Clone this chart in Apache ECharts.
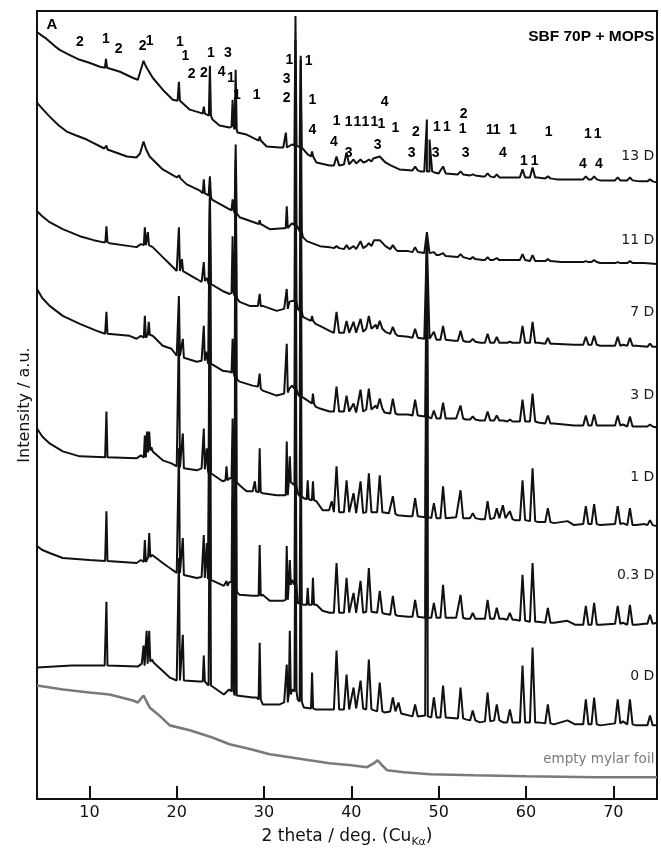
<!DOCTYPE html>
<html>
<head>
<meta charset="utf-8">
<script src="https://cdn.jsdelivr.net/npm/echarts@6/dist/echarts.min.js"></script>
<style>
html, body { margin: 0; padding: 0; background: #fff; }
#chart { width: 661px; height: 853px; }
</style>
</head>
<body>
<div id="chart"></div>
<script>
// 2 theta tick labels
const xTicks = [10, 20, 30, 40, 50, 60, 70]

// each pattern: background points [2 theta, intensity] and reflections [2 theta, top, foot]
// intensities are in stacked a.u.
const base13 = [
  [4.0, 770], [4.6, 766], [5.1, 763], [6.0, 756], [6.6, 752], [7.7, 747], [8.9, 742], [10.0, 739],
  [11.2, 735], [13.5, 730], [14.95, 724], [15.55, 722], [16.2, 741], [16.5, 735], [16.7, 732], [17.25, 724],
  [18.4, 712], [19.55, 702], [20.1, 701], [21.5, 692], [22.65, 689], [23.45, 687], [24.1, 682], [24.9, 676],
  [26.05, 674], [26.95, 669], [28.0, 667], [29.15, 662], [29.8, 659], [30.3, 655], [31.8, 654], [32.2, 654],
  [33.2, 657], [33.85, 655], [34.45, 652], [35.0, 647], [36.0, 639], [37.5, 636], [38.7, 637], [40.0, 638],
  [41.5, 639], [42.5, 643], [43.25, 645], [43.9, 639], [44.5, 636], [45.5, 632], [47.0, 632], [47.9, 630],
  [49.5, 629], [50.0, 628], [51.0, 628], [53.0, 626], [55.0, 625], [57.5, 624], [59.0, 624], [61.3, 624],
  [63.5, 622], [66.0, 622], [68.5, 621], [71.2, 621], [73.0, 620], [75.0, 619]
]
const peaks13 = [
  [11.9, 743, 734], [20.25, 720, 701], [23.1, 695, 688], [23.8, 736, 686], [26.4, 702, 675], [26.75, 732, 672],
  [29.5, 665, 661], [32.5, 669, 654], [33.6, 786, 656], [34.2, 746, 654], [35.5, 650, 645], [38.3, 645, 636],
  [39.45, 649, 637], [40.25, 642, 638], [41.05, 642, 639], [42.0, 642, 640], [47.3, 635, 631], [48.65, 682, 630],
  [48.95, 662, 630], [50.5, 635, 628], [52.5, 630, 627], [53.9, 627, 626], [55.6, 628, 625], [56.65, 627, 624],
  [59.6, 632, 624], [60.75, 634, 624], [62.5, 625, 623], [66.85, 625, 622], [67.8, 625, 622], [70.5, 624, 621],
  [71.9, 624, 621], [74.2, 622, 620]
]
const base11 = [
  [4.0, 699], [4.6, 693], [5.45, 685], [6.5, 676], [7.4, 670], [8.5, 666], [9.7, 662], [11.7, 653],
  [12.2, 652], [14.3, 645], [15.4, 644], [15.8, 648], [16.2, 660], [16.5, 652], [16.9, 645], [18.4, 632],
  [20.0, 624], [20.6, 623], [21.15, 617], [22.6, 611], [23.3, 607], [23.65, 606], [24.0, 602], [24.6, 599],
  [26.05, 592], [26.95, 586], [27.2, 584], [29.15, 578], [29.85, 576], [30.65, 572], [32.2, 573], [33.2, 578],
  [33.85, 574], [34.45, 564], [34.9, 560], [36.4, 555], [37.5, 554], [38.7, 552], [39.9, 552], [41.5, 554],
  [42.0, 556], [42.6, 561], [43.25, 561], [43.9, 555], [45.3, 550], [46.5, 550], [47.8, 548], [50.0, 546],
  [51.0, 544], [53.0, 543], [55.0, 541], [56.2, 541], [58.0, 541], [59.0, 541], [61.4, 540], [64.0, 539],
  [66.0, 539], [68.5, 538], [71.0, 538], [73.5, 538], [75.0, 537]
]
const peaks11 = [
  [11.95, 656, 652], [20.3, 626, 623], [23.1, 622, 608], [23.8, 625, 605], [26.4, 602, 591], [26.75, 657, 588],
  [29.5, 581, 577], [32.6, 595, 573], [33.6, 762, 576], [34.2, 742, 570], [38.3, 555, 553], [39.45, 556, 552],
  [40.25, 555, 552], [41.05, 560, 553], [42.0, 558, 555], [44.75, 556, 552], [47.3, 554, 549], [48.65, 569, 548],
  [49.45, 549, 546], [50.5, 548, 545], [52.5, 547, 544], [53.9, 544, 542], [55.6, 544, 541], [56.65, 543, 541],
  [59.6, 547, 541], [60.75, 546, 540], [62.5, 542, 540], [66.85, 540, 539], [67.8, 541, 539], [70.5, 539, 538],
  [71.9, 540, 538]
]
const base7 = [
  [4.0, 590], [4.6, 585], [5.45, 579], [6.95, 572], [8.9, 565], [10.5, 561], [11.5, 559], [12.3, 558],
  [14.6, 555], [15.4, 554], [15.9, 557], [17.0, 557], [17.25, 554], [18.4, 544], [19.55, 534], [20.0, 530],
  [20.45, 530], [20.9, 529], [22.3, 522], [22.85, 519], [23.45, 523], [23.65, 517], [24.0, 515], [25.25, 510],
  [26.05, 507], [26.55, 510], [26.95, 502], [27.2, 499], [28.35, 495], [29.3, 495], [29.85, 495], [31.45, 490],
  [32.3, 492], [32.9, 499], [33.2, 500], [33.85, 492], [34.45, 484], [34.9, 482], [35.9, 477], [36.4, 475],
  [37.5, 470], [38.65, 467], [39.8, 468], [40.65, 468], [41.5, 470], [42.4, 474], [42.8, 476], [43.9, 469],
  [45.3, 465], [46.5, 464], [47.8, 463], [48.45, 463], [49.9, 461], [51.0, 461], [51.8, 460], [53.1, 459],
  [54.8, 458], [56.1, 459], [57.4, 458], [58.9, 458], [61.4, 458], [63.2, 457], [65.5, 456], [68.5, 455],
  [71.1, 456], [72.6, 455], [75.0, 454]
]
const peaks7 = [
  [11.95, 575, 559], [16.35, 574, 556], [16.7, 569, 556], [20.25, 574, 530], [20.6, 542, 530], [23.1, 539, 520],
  [23.8, 612, 517], [26.4, 565, 508], [26.75, 642, 505], [29.5, 507, 495], [32.6, 512, 492], [33.6, 672, 500],
  [34.2, 652, 490], [35.5, 485, 480], [38.3, 489, 468], [39.45, 480, 468], [40.25, 479, 468], [41.05, 482, 469],
  [42.0, 485, 472], [43.25, 480, 472], [44.75, 474, 467], [47.3, 472, 463], [48.65, 562, 462], [49.45, 469, 461],
  [50.5, 475, 461], [52.5, 470, 460], [53.9, 462, 459], [55.6, 467, 458], [56.65, 464, 458], [58.15, 459, 458],
  [59.6, 475, 458], [60.75, 479, 458], [62.5, 463, 457], [66.85, 464, 456], [67.8, 465, 456], [70.5, 464, 455],
  [71.9, 463, 455], [74.2, 457, 454]
]
const base3 = [
  [4.0, 512], [4.6, 503], [5.45, 495], [6.95, 485], [8.9, 477], [10.85, 470], [11.8, 467], [12.1, 467],
  [14.6, 465], [15.4, 462], [15.9, 465], [17.1, 467], [17.25, 465], [18.4, 455], [19.4, 452], [20.0, 445],
  [20.45, 445], [20.95, 442], [22.3, 439], [22.85, 440], [23.35, 449], [23.6, 437], [24.0, 435], [25.25, 430],
  [26.05, 429], [26.55, 426], [26.95, 421], [27.2, 419], [28.7, 415], [29.3, 414], [29.85, 410], [31.45, 405],
  [32.3, 407], [32.9, 412], [33.2, 415], [33.85, 407], [34.45, 402], [35.0, 400], [35.9, 394], [36.4, 392],
  [37.5, 389], [38.65, 388], [39.8, 389], [40.6, 388], [41.5, 390], [42.4, 392], [42.8, 395], [43.8, 388],
  [45.3, 386], [46.5, 386], [47.8, 385], [48.45, 384], [49.9, 382], [51.0, 382], [52.0, 382], [53.1, 381],
  [54.7, 380], [56.1, 381], [57.4, 380], [58.9, 379], [61.4, 378], [63.2, 377], [65.5, 375], [68.5, 375],
  [71.1, 376], [72.6, 374], [75.0, 373]
]
const peaks3 = [
  [11.95, 489, 467], [16.35, 485, 463], [16.8, 479, 466], [20.25, 505, 445], [20.7, 462, 443], [23.1, 475, 440],
  [23.8, 602, 437], [26.4, 462, 428], [26.75, 632, 424], [29.5, 427, 412], [32.6, 457, 408], [33.6, 602, 412],
  [34.2, 582, 404], [35.6, 407, 397], [38.3, 414, 389], [39.45, 405, 389], [40.25, 397, 388], [41.05, 411, 389],
  [42.0, 412, 391], [43.25, 402, 392], [44.75, 402, 387], [47.3, 401, 385], [48.65, 557, 384], [49.45, 390, 382],
  [50.5, 398, 382], [52.5, 395, 382], [53.9, 384, 381], [55.6, 389, 380], [56.65, 385, 380], [58.15, 381, 379],
  [59.6, 401, 379], [60.75, 407, 379], [62.5, 385, 377], [66.85, 385, 375], [67.8, 386, 375], [70.5, 385, 375],
  [71.9, 384, 374], [74.2, 376, 374]
]
const base1 = [
  [4.0, 372], [4.6, 364], [5.45, 357], [6.95, 349], [8.9, 344], [11.8, 343], [12.1, 343], [15.4, 342],
  [15.9, 345], [17.1, 353], [17.25, 349], [18.4, 340], [19.4, 337], [20.0, 334], [20.45, 332], [20.95, 332],
  [22.3, 330], [22.85, 332], [23.65, 327], [24.0, 325], [25.25, 319], [26.05, 322], [26.95, 317], [27.2, 315],
  [28.0, 309], [28.7, 309], [29.15, 309], [29.85, 307], [31.45, 305], [32.15, 305], [33.2, 320], [33.85, 307],
  [34.55, 302], [36.0, 299], [36.7, 290], [37.5, 290], [38.6, 287], [39.8, 288], [40.6, 287], [41.45, 287],
  [42.45, 289], [43.7, 288], [44.3, 287], [45.3, 285], [46.5, 284], [47.8, 284], [48.45, 283], [49.9, 282],
  [51.0, 282], [52.0, 283], [53.1, 282], [54.7, 281], [56.1, 282], [57.7, 282], [58.7, 280], [61.4, 278],
  [63.2, 277], [64.75, 279], [65.5, 275], [68.5, 275], [71.1, 277], [72.6, 275], [73.6, 276], [75.0, 274]
]
const peaks1 = [
  [11.95, 389, 343], [16.35, 365, 343], [16.6, 369, 348], [16.85, 369, 350], [20.25, 472, 333], [20.7, 367, 332],
  [23.1, 372, 331], [23.45, 352, 330], [23.8, 592, 327], [25.7, 334, 320], [26.4, 382, 322], [26.75, 622, 318],
  [28.95, 319, 309], [29.5, 352, 308], [32.6, 359, 305], [32.95, 344, 318], [33.6, 512, 315], [34.2, 502, 304],
  [35.0, 320, 301], [35.6, 319, 300], [37.75, 299, 290], [38.3, 334, 288], [39.45, 320, 288], [40.25, 307, 287],
  [41.05, 319, 287], [42.0, 327, 288], [43.25, 325, 288], [44.75, 304, 286], [47.3, 302, 284], [48.65, 552, 283],
  [49.45, 297, 282], [50.5, 314, 282], [52.5, 310, 282], [53.9, 287, 282], [55.6, 299, 281], [56.65, 292, 282],
  [57.35, 295, 282], [58.15, 289, 281], [59.6, 320, 280], [60.75, 332, 279], [62.5, 292, 278], [66.85, 294, 276],
  [67.8, 296, 276], [70.5, 294, 276], [71.9, 292, 275], [74.2, 280, 275]
]
const base03 = [
  [4.0, 254], [4.6, 250], [5.45, 247], [6.95, 242], [10.0, 240], [11.8, 239], [12.1, 239], [15.4, 237],
  [15.9, 240], [17.2, 245], [18.4, 237], [19.2, 232], [20.0, 227], [20.45, 226], [20.95, 225], [22.3, 222],
  [22.85, 223], [23.65, 220], [24.0, 220], [25.4, 214], [26.05, 218], [26.95, 207], [27.2, 205], [28.7, 204],
  [29.85, 205], [30.65, 199], [32.15, 199], [33.2, 220], [33.85, 197], [34.55, 195], [36.0, 195], [36.7, 189],
  [37.5, 187], [38.65, 187], [39.85, 187], [40.6, 187], [41.5, 187], [42.45, 189], [43.8, 186], [45.3, 184],
  [46.5, 183], [47.8, 183], [48.45, 182], [49.9, 182], [51.0, 182], [52.0, 182], [53.1, 181], [54.7, 181],
  [56.1, 182], [57.4, 181], [58.8, 180], [61.4, 178], [63.2, 177], [64.75, 179], [65.6, 175], [68.5, 175],
  [71.1, 177], [72.6, 175], [73.6, 176], [75.0, 177]
]
const peaks03 = [
  [11.95, 289, 239], [16.35, 260, 238], [16.85, 267, 243], [20.25, 352, 227], [20.7, 262, 225], [23.1, 265, 222],
  [23.45, 257, 221], [23.8, 482, 220], [25.7, 219, 214], [26.4, 352, 218], [26.75, 502, 210], [29.5, 255, 204],
  [32.6, 254, 200], [32.95, 240, 215], [33.6, 402, 215], [34.2, 382, 196], [35.0, 212, 195], [35.6, 222, 195],
  [38.3, 237, 187], [39.45, 222, 187], [40.25, 207, 187], [41.05, 219, 187], [42.0, 232, 188], [43.25, 209, 187],
  [44.75, 204, 185], [47.3, 200, 183], [48.65, 547, 182], [49.45, 197, 182], [50.5, 215, 182], [52.5, 205, 182],
  [53.9, 187, 181], [55.6, 200, 181], [56.65, 192, 181], [58.15, 187, 180], [59.6, 225, 179], [60.75, 237, 178],
  [62.5, 192, 177], [66.85, 194, 175], [67.8, 197, 175], [70.5, 194, 176], [71.9, 195, 175], [74.2, 185, 176]
]
const base0 = [
  [4.0, 132], [8.0, 134], [11.75, 134], [12.15, 134], [15.55, 133], [16.0, 136], [17.2, 140], [17.35, 137],
  [19.2, 122], [20.0, 119], [20.45, 119], [20.95, 119], [22.6, 118], [23.0, 118], [23.35, 116], [23.65, 114],
  [24.0, 112], [25.4, 105], [26.0, 110], [26.95, 102], [28.7, 102], [29.15, 102], [29.85, 95], [31.8, 95],
  [32.3, 97], [33.2, 110], [33.85, 100], [34.55, 92], [35.9, 90], [37.5, 90], [38.65, 90], [39.85, 90],
  [40.6, 92], [41.5, 90], [42.45, 89], [43.8, 87], [45.0, 90], [45.9, 84], [47.8, 82], [48.45, 84],
  [49.9, 82], [51.0, 82], [53.1, 80], [54.7, 77], [56.1, 80], [57.4, 77], [58.8, 77], [61.4, 77],
  [63.2, 75], [64.75, 79], [65.6, 75], [68.5, 74], [71.1, 78], [72.6, 74], [75.0, 74]
]
const peaks0 = [
  [11.95, 198, 134], [16.2, 154, 134], [16.55, 169, 136], [16.85, 169, 138], [20.25, 242, 119], [20.7, 165, 119],
  [23.1, 144, 118], [23.8, 382, 114], [26.4, 302, 108], [26.75, 402, 104], [29.5, 157, 100], [32.6, 135, 97],
  [32.95, 169, 105], [33.6, 302, 108], [34.2, 282, 98], [35.5, 127, 91], [38.3, 149, 90], [39.45, 125, 90],
  [40.25, 112, 91], [41.05, 119, 91], [42.0, 140, 90], [43.25, 117, 88], [44.75, 102, 88], [45.4, 97, 86],
  [47.3, 95, 83], [48.65, 542, 83], [49.45, 102, 82], [50.5, 114, 82], [52.5, 112, 81], [53.9, 89, 79],
  [55.6, 107, 78], [56.65, 95, 79], [58.15, 90, 77], [59.6, 134, 77], [60.75, 152, 77], [62.5, 95, 76],
  [66.85, 100, 75], [67.8, 102, 75], [70.5, 100, 76], [71.9, 100, 75], [74.2, 84, 74]
]
const foil = [
  [4.0, 114], [7.0, 110], [10.0, 107], [12.3, 105], [15.0, 99], [15.55, 97], [16.2, 104], [16.9, 92],
  [18.0, 84], [19.2, 74], [21.5, 69], [24.0, 62], [26.05, 55], [28.5, 50], [30.65, 45], [32.95, 42],
  [35.2, 39], [37.5, 36], [40.0, 34], [41.8, 32], [42.6, 36], [43.0, 39], [43.5, 34], [44.1, 29],
  [46.0, 27], [49.0, 25], [54.0, 24], [60.0, 23], [68.0, 22], [75.0, 22]
]

// sample names at the right end of each pattern
const sampleNames = ['13 D', '11 D', '7 D', '3 D', '1 D', '0.3 D', '0 D']
const sampleLabelY = [645, 561, 489, 405, 323, 225, 123]

// phase markers above the 13 D pattern: [2 theta, height, phase]
const phaseMarks = [
  [8.9, 760, '2'], [11.88, 763, '1'], [13.36, 753, '2'], [16.1, 756, '2'], [16.9, 761, '1'],
  [20.35, 760, '1'], [21.0, 746, '1'], [23.9, 749, '1'], [25.85, 749, '3'], [21.7, 728, '2'],
  [23.1, 729, '2'], [25.15, 730, '4'], [26.2, 724, '1'], [26.9, 707, '1'], [29.15, 707, '1'],
  [32.9, 742, '1'], [35.1, 741, '1'], [32.6, 723, '3'], [32.6, 704, '2'], [35.55, 702, '1'],
  [35.55, 671, '4'], [43.8, 700, '4'], [38.3, 680, '1'], [39.7, 679, '1'], [40.7, 679, '1'],
  [41.6, 679, '1'], [42.65, 679, '1'], [43.45, 677, '1'], [45.05, 673, '1'], [38.0, 659, '4'],
  [39.7, 648, '3'], [43.0, 656, '3'], [46.9, 648, '3'], [47.4, 669, '2'], [49.8, 674, '1'],
  [50.95, 674, '1'], [49.65, 648, '3'], [52.85, 687, '2'], [52.75, 672, '1'], [53.1, 648, '3'],
  [55.85, 671, '1'], [56.65, 671, '1'], [58.5, 671, '1'], [57.35, 648, '4'], [59.75, 640, '1'],
  [61.0, 640, '1'], [62.6, 669, '1'], [67.1, 667, '1'], [68.2, 667, '1'], [66.5, 637, '4'],
  [68.35, 637, '4']
]

// merge background and reflections into one polyline
const buildTrace = (base, peaks) => {
  const wins = peaks.map(([x, top, foot]) => {
    const w = x < 36.5 ? 0.12 : (top - foot > 150 ? 0.1 : 0.3)
    return [x, top, foot, w]
  })
  const pts = base.filter(p => !wins.some(([x, , , w]) => Math.abs(p[0] - x) <= w))
  wins.forEach(([x, top, foot, w]) => pts.push([x - w, foot], [x, top], [x + w, foot]))
  return pts.sort((a, b) => a[0] - b[0])
}

const patterns = [
  [base13, peaks13], [base11, peaks11], [base7, peaks7], [base3, peaks3],
  [base1, peaks1], [base03, peaks03], [base0, peaks0]
]

const ink = '#111'
const lineSeries = patterns.map(([b, p]) => ({
  type: 'line',
  data: buildTrace(b, p),
  showSymbol: false,
  silent: true,
  lineStyle: { color: ink, width: 2 },
  z: 3
}))

const textLayer = (data, label, z) => ({
  type: 'scatter',
  silent: true,
  symbolSize: 0,
  itemStyle: { opacity: 1 },
  data,
  label: Object.assign({ show: true, formatter: p => p.data[2], color: '#000', opacity: 1, textBorderWidth: 0 }, label),
  labelLayout: { hideOverlap: false },
  z: z || 5
})

const option = {
  animation: false,
  grid: {
    left: 37, right: 4, top: 11, bottom: 51,
    show: true, borderColor: ink, borderWidth: 2
  },
  xAxis: {
    type: 'value',
    min: 4,
    max: 75,
    name: '2 theta / deg. (Cu{sub|Kα})',
    nameLocation: 'middle',
    nameGap: 26,
    nameTextStyle: {
      fontFamily: 'DejaVu Sans', fontSize: 17, color: ink, lineHeight: 22,
      rich: { sub: { fontFamily: 'DejaVu Sans', fontSize: 11, color: ink, verticalAlign: 'bottom', lineHeight: 14 } }
    },
    axisLine: { show: true, lineStyle: { color: ink, width: 2 } },
    axisTick: { show: true, inside: true, length: 13, customValues: xTicks, lineStyle: { color: ink, width: 2 } },
    axisLabel: { customValues: xTicks, margin: 6, fontFamily: 'DejaVu Sans', fontSize: 16, color: ink },
    splitLine: { show: false }
  },
  yAxis: {
    type: 'value',
    min: 0,
    max: 791,
    name: 'Intensity / a.u.',
    nameLocation: 'middle',
    nameGap: 4,
    nameTextStyle: { fontFamily: 'DejaVu Sans', fontSize: 16, color: ink },
    axisLine: { show: true, lineStyle: { color: ink, width: 2 } },
    axisTick: { show: false },
    axisLabel: { show: false },
    splitLine: { show: false }
  },
  series: [
    ...lineSeries,
    {
      type: 'line',
      data: foil,
      showSymbol: false,
      silent: true,
      lineStyle: { color: '#7a7a7a', width: 2.6 },
      z: 2
    },
    textLayer(sampleNames.map((n, i) => [74.7, sampleLabelY[i], n]),
      { position: 'left', distance: 0, fontFamily: 'DejaVu Sans', fontSize: 14, color: '#1a1a1a' }),
    textLayer([[74.7, 40, 'empty mylar foil']],
      { position: 'left', distance: 0, fontFamily: 'DejaVu Sans', fontSize: 13.5, color: '#7a7a7a' }),
    textLayer(phaseMarks,
      { position: 'inside', fontFamily: 'Liberation Sans', fontWeight: 'bold', fontSize: 14 }),
    textLayer([[5.7, 777, 'A']],
      { position: 'inside', fontFamily: 'Liberation Sans', fontWeight: 'bold', fontSize: 15 }),
    textLayer([[74.7, 765, 'SBF 70P + MOPS']],
      { position: 'left', distance: 0, fontFamily: 'Liberation Sans', fontWeight: 'bold', fontSize: 15.5 })
  ]
}

const chart = echarts.init(document.getElementById('chart'))
chart.setOption(option)
</script>
</body>
</html>
